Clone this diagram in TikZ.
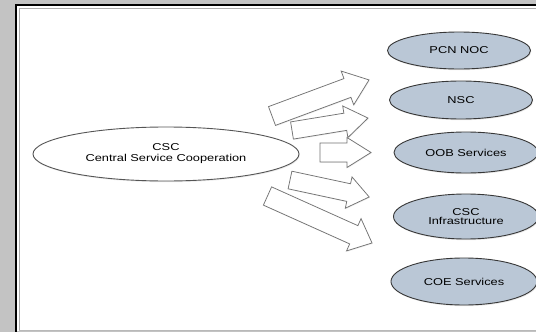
\documentclass[tikz,border=0pt]{standalone}
\usepackage{fontspec}
\setmainfont{Liberation Sans}[FakeStretch=1.28]
\usetikzlibrary{shapes.geometric,shadows}
\definecolor{bggray}{RGB}{195,195,195}
\definecolor{ellfill}{RGB}{186,199,214}
\definecolor{ellline}{RGB}{55,55,55}
\definecolor{hubline}{RGB}{85,85,85}
\definecolor{arrline}{RGB}{115,115,115}
\tikzset{
  svc/.style={ellipse, draw=ellline, line width=0.9pt, fill=ellfill,
    minimum width=143pt, minimum height=38pt, inner sep=0pt,
    font=\fontsize{10}{9.5}\selectfont, align=center,
    drop shadow={opacity=0.18, shadow xshift=0.8pt, shadow yshift=-1.2pt}},
  hub/.style={ellipse, draw=hubline, line width=0.9pt, fill=white,
    minimum width=266pt, minimum height=54pt, inner sep=0pt,
    font=\fontsize{10}{11}\selectfont, align=center,
    drop shadow={opacity=0.15, shadow xshift=0.8pt, shadow yshift=-1.2pt}},
  arrowbox/.style={draw=arrline, fill=white, line width=0.75pt, line join=miter,
    drop shadow={opacity=0.12, shadow xshift=0.7pt, shadow yshift=-0.9pt}}
}
% x, y (tail centre), angle, length, shaft half width, head half width, head length
\newcommand\blockarrow[7]{%
  \begin{scope}[shift={(#1,#2)},rotate=#3]
    \draw[arrowbox] (0,-#5) -- ({#4-#7},-#5) -- ({#4-#7},-#6) -- (#4,0)
      -- ({#4-#7},#6) -- ({#4-#7},#5) -- (0,#5) -- cycle;
  \end{scope}}
\begin{document}
\begin{tikzpicture}[x=1pt,y=-1pt]
  \clip (0,0) rectangle (536,332);
  \useasboundingbox (0,0) rectangle (536,332);
  % page frame
  \fill[bggray] (0,0) rectangle (536,332);
  \fill[white] (16,5) rectangle (545,331);
  \draw[black, line width=2pt] (16,340) -- (16,5) -- (545,5);
  \draw[gray!65, line width=0.8pt] (19,331) -- (19,8.2) -- (545,8.2);
  \draw[gray!55, line width=0.9pt] (19,330.8) -- (545,330.8);
  % nodes
  \node[hub] (csc) at (166,154) {CSC\\Central Service Cooperation};
  \node[svc, minimum height=37pt] (pcn) at (459,50.5) {PCN NOC};
  \node[svc] (nsc) at (461,100) {NSC};
  \node[svc, minimum width=144pt, minimum height=41pt] (oob) at (466,152.5) {OOB Services};
  \node[svc, minimum width=145pt, minimum height=45pt] (infra) at (466,216.5) {CSC\\Infrastructure};
  \node[svc, minimum width=146pt, minimum height=47pt] (coe) at (464,281.5) {COE Services};
  % block arrows
  \blockarrow{272}{116}{20.4}{103.5}{10}{18}{23}
  \blockarrow{292}{130.5}{9.3}{77}{8.7}{16}{23}
  \blockarrow{320}{152.5}{0}{51}{9.5}{15}{24}
  \blockarrow{290}{180}{-12.1}{81}{9}{16}{21}
  \blockarrow{267.5}{196}{-24.2}{114.6}{10}{17.7}{20}
\end{tikzpicture}
\end{document}
